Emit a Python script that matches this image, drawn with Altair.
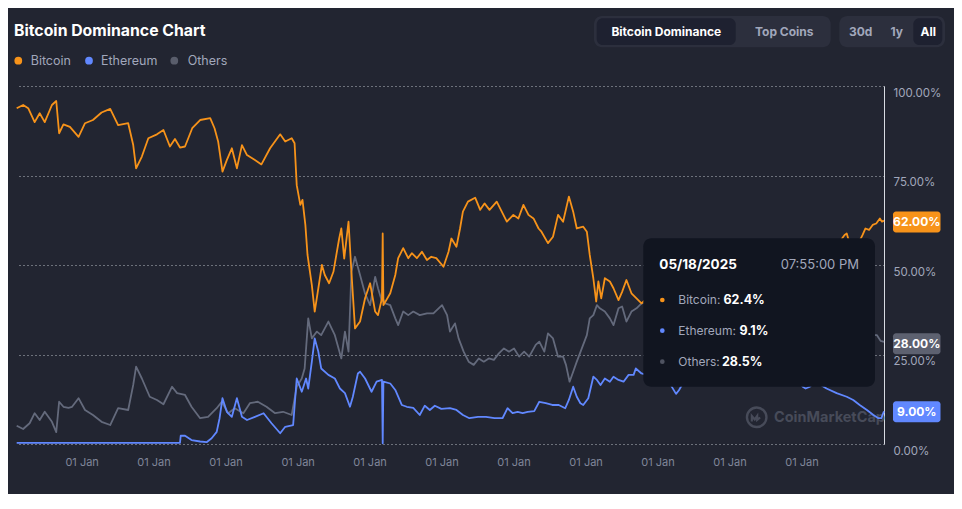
import altair as alt
import pandas as pd

FONT = "Inter"

# ---------------- data (decimal year, dominance %) ----------------
btc = [
    (2013.33, 93.8), (2013.42, 94.7), (2013.49, 93.8), (2013.58, 89.9), (2013.65, 92.4),
    (2013.72, 89.9), (2013.82, 94.7), (2013.88, 95.8), (2013.92, 86.8), (2013.98, 89.3),
    (2014.07, 88.6), (2014.19, 85.8), (2014.28, 89.6), (2014.39, 90.5), (2014.51, 92.6),
    (2014.63, 93.6), (2014.74, 89.1), (2014.88, 89.6), (2014.95, 83.5), (2014.99, 77.0),
    (2015.07, 80.3), (2015.16, 85.4), (2015.28, 86.5), (2015.37, 87.7), (2015.46, 83.1),
    (2015.53, 85.2), (2015.60, 82.8), (2015.67, 83.1), (2015.77, 88.2), (2015.88, 90.5),
    (2016.02, 91.0), (2016.08, 88.2), (2016.13, 84.5), (2016.19, 76.1), (2016.25, 79.3),
    (2016.32, 82.6), (2016.39, 77.0), (2016.46, 83.5), (2016.53, 80.7), (2016.64, 79.3),
    (2016.73, 78.1), (2016.85, 82.6), (2016.99, 86.5), (2017.06, 84.5), (2017.15, 85.4),
    (2017.19, 84.0), (2017.22, 72.3), (2017.27, 66.8), (2017.30, 68.2), (2017.34, 61.2),
    (2017.37, 52.8), (2017.43, 44.4), (2017.47, 37.0), (2017.52, 43.5), (2017.57, 50.0),
    (2017.61, 47.2), (2017.67, 44.9), (2017.73, 48.1), (2017.81, 57.4), (2017.84, 60.2),
    (2017.88, 51.8), (2017.94, 62.1), (2017.98, 48.1), (2018.03, 32.3), (2018.10, 34.2),
    (2018.17, 40.7), (2018.24, 44.9), (2018.31, 37.0), (2018.35, 36.0), (2018.405, 40.7),
    (2018.415, 58.8), (2018.425, 38.8), (2018.52, 42.1), (2018.59, 47.2), (2018.63, 51.9),
    (2018.70, 54.7), (2018.77, 51.9), (2018.82, 53.3), (2018.89, 51.9), (2018.96, 53.7),
    (2019.03, 51.4), (2019.09, 52.3), (2019.16, 51.9), (2019.26, 49.5), (2019.33, 53.7),
    (2019.37, 57.4), (2019.44, 55.1), (2019.49, 60.2), (2019.53, 64.9), (2019.60, 67.7),
    (2019.70, 68.8), (2019.77, 65.4), (2019.83, 67.2), (2019.90, 65.4), (2020.00, 67.7),
    (2020.07, 64.9), (2020.14, 62.1), (2020.23, 64.0), (2020.30, 63.0), (2020.37, 66.8),
    (2020.44, 64.0), (2020.51, 63.0), (2020.58, 60.2), (2020.62, 59.3), (2020.71, 56.1),
    (2020.78, 57.9), (2020.85, 64.0), (2020.92, 62.1), (2021.00, 69.1), (2021.06, 64.9),
    (2021.11, 60.2), (2021.20, 60.7), (2021.25, 59.3), (2021.29, 52.8), (2021.34, 46.3),
    (2021.38, 39.8), (2021.41, 45.4), (2021.45, 40.7), (2021.50, 46.3), (2021.57, 45.4),
    (2021.62, 43.5), (2021.69, 40.2), (2021.74, 42.5), (2021.80, 45.8), (2021.87, 42.1),
    (2021.94, 40.7), (2022.01, 39.3), (2022.10, 41.0), (2022.20, 42.5), (2022.30, 41.5),
    (2022.40, 44.0), (2022.50, 43.0), (2022.60, 40.5), (2022.70, 40.0), (2022.80, 40.5),
    (2022.90, 40.0), (2023.00, 41.5), (2023.10, 42.5), (2023.20, 46.0), (2023.30, 45.5),
    (2023.40, 47.5), (2023.50, 49.0), (2023.60, 48.5), (2023.70, 49.5), (2023.80, 52.0),
    (2023.90, 51.0), (2024.00, 51.5), (2024.10, 51.0), (2024.20, 52.0), (2024.30, 54.5),
    (2024.40, 53.5), (2024.50, 55.0), (2024.60, 56.0), (2024.70, 56.5), (2024.78, 57.0),
    (2024.83, 58.4), (2024.86, 58.8), (2024.88, 57.4), (2024.92, 56.0), (2024.96, 55.0),
    (2025.00, 55.5), (2025.04, 56.8), (2025.08, 58.4), (2025.12, 60.2), (2025.17, 59.8),
    (2025.22, 61.2), (2025.27, 61.6), (2025.32, 63.0), (2025.35, 62.1), (2025.377, 62.4),
]

eth = [
    (2013.33, 0.3), (2015.60, 0.3), (2015.61, 2.3), (2015.67, 2.3), (2015.76, 1.1),
    (2015.88, 0.7), (2015.97, 0.5), (2016.04, 1.6), (2016.11, 3.4), (2016.15, 7.2),
    (2016.19, 12.8), (2016.25, 9.0), (2016.32, 7.6), (2016.39, 12.8), (2016.46, 7.6),
    (2016.53, 6.7), (2016.64, 7.6), (2016.76, 8.6), (2016.87, 5.8), (2016.99, 3.0),
    (2017.06, 4.8), (2017.17, 5.3), (2017.22, 18.3), (2017.29, 14.6), (2017.35, 18.3),
    (2017.38, 15.5), (2017.43, 23.0), (2017.47, 29.5), (2017.52, 25.8), (2017.56, 21.1),
    (2017.66, 19.3), (2017.75, 18.3), (2017.82, 15.5), (2017.89, 14.2), (2017.96, 10.4),
    (2018.00, 13.2), (2018.07, 19.7), (2018.10, 20.2), (2018.17, 18.3), (2018.26, 14.6),
    (2018.33, 17.4), (2018.405, 17.9), (2018.415, 0.2), (2018.425, 17.4), (2018.52, 16.9),
    (2018.59, 15.1), (2018.68, 10.9), (2018.75, 10.4), (2018.84, 10.1), (2018.93, 8.1),
    (2019.00, 10.7), (2019.07, 9.5), (2019.14, 10.7), (2019.23, 9.8), (2019.35, 10.0),
    (2019.44, 9.5), (2019.53, 8.1), (2019.62, 7.2), (2019.74, 7.6), (2019.85, 7.6),
    (2019.97, 7.2), (2020.08, 7.2), (2020.15, 10.0), (2020.22, 8.6), (2020.29, 9.0),
    (2020.36, 8.6), (2020.43, 9.0), (2020.52, 9.2), (2020.59, 11.8), (2020.68, 11.4),
    (2020.77, 10.9), (2020.86, 10.9), (2020.95, 10.0), (2021.00, 12.3), (2021.06, 16.0),
    (2021.11, 13.2), (2021.16, 11.4), (2021.20, 10.9), (2021.27, 12.8), (2021.34, 18.8),
    (2021.39, 17.9), (2021.44, 16.5), (2021.50, 18.3), (2021.57, 17.4), (2021.62, 18.8),
    (2021.69, 17.9), (2021.76, 17.4), (2021.83, 19.3), (2021.90, 19.3), (2021.93, 21.1),
    (2022.01, 19.7), (2022.13, 19.0), (2022.27, 18.5), (2022.40, 17.0), (2022.49, 14.0),
    (2022.53, 15.0), (2022.60, 17.5), (2022.70, 19.5), (2022.80, 18.5), (2022.90, 18.0),
    (2023.00, 18.5), (2023.20, 19.5), (2023.40, 19.0), (2023.60, 18.5), (2023.80, 17.0),
    (2024.00, 17.5), (2024.20, 17.0), (2024.25, 16.0), (2024.29, 15.5), (2024.35, 16.0),
    (2024.40, 17.0), (2024.50, 16.5), (2024.58, 15.5), (2024.72, 14.2), (2024.86, 13.2),
    (2024.95, 12.3), (2025.04, 10.9), (2025.14, 9.5), (2025.23, 8.1), (2025.30, 7.2),
    (2025.34, 7.2), (2025.377, 9.1),
]

others = [
    (2013.33, 5.1), (2013.42, 4.2), (2013.51, 5.8), (2013.58, 8.6), (2013.65, 6.7),
    (2013.72, 9.0), (2013.82, 6.2), (2013.88, 3.3), (2013.92, 11.8), (2013.98, 10.4),
    (2014.05, 10.1), (2014.10, 10.4), (2014.19, 12.8), (2014.28, 9.5), (2014.39, 8.1),
    (2014.51, 6.2), (2014.63, 5.3), (2014.74, 10.0), (2014.88, 9.5), (2014.95, 16.5),
    (2014.99, 21.6), (2015.07, 18.3), (2015.18, 13.2), (2015.28, 12.3), (2015.37, 11.1),
    (2015.49, 16.0), (2015.56, 14.2), (2015.67, 13.7), (2015.76, 10.4), (2015.88, 7.2),
    (2015.99, 7.6), (2016.11, 10.0), (2016.18, 11.8), (2016.27, 8.6), (2016.36, 10.0),
    (2016.48, 8.6), (2016.57, 11.4), (2016.68, 11.8), (2016.80, 10.4), (2016.92, 8.6),
    (2017.03, 9.0), (2017.15, 8.1), (2017.22, 16.0), (2017.29, 18.3), (2017.33, 21.1),
    (2017.38, 35.1), (2017.43, 29.5), (2017.50, 31.4), (2017.56, 30.4), (2017.66, 34.2),
    (2017.75, 30.4), (2017.84, 23.9), (2017.89, 31.4), (2017.94, 25.8), (2017.98, 48.1),
    (2018.03, 52.3), (2018.10, 47.2), (2018.17, 42.0), (2018.24, 38.8), (2018.31, 46.7),
    (2018.35, 43.5), (2018.405, 39.8), (2018.415, 40.7), (2018.45, 39.3), (2018.52, 38.8),
    (2018.59, 35.1), (2018.63, 33.2), (2018.70, 37.0), (2018.77, 36.0), (2018.84, 37.0),
    (2018.93, 36.0), (2019.03, 36.5), (2019.12, 36.5), (2019.24, 38.8), (2019.31, 36.0),
    (2019.35, 31.4), (2019.42, 33.7), (2019.47, 29.5), (2019.54, 25.8), (2019.61, 23.0),
    (2019.68, 22.1), (2019.75, 23.9), (2019.82, 23.0), (2019.89, 23.9), (2019.96, 23.5),
    (2020.03, 25.3), (2020.10, 26.7), (2020.17, 25.8), (2020.24, 26.7), (2020.31, 24.4),
    (2020.38, 25.8), (2020.45, 24.4), (2020.54, 27.7), (2020.59, 28.6), (2020.66, 25.8),
    (2020.71, 30.9), (2020.78, 29.5), (2020.85, 24.4), (2020.92, 24.4), (2020.96, 22.1),
    (2021.01, 17.4), (2021.06, 20.2), (2021.11, 23.0), (2021.18, 26.7), (2021.25, 30.4),
    (2021.29, 35.1), (2021.34, 36.0), (2021.39, 38.8), (2021.43, 37.9), (2021.50, 37.0),
    (2021.57, 35.1), (2021.62, 33.2), (2021.69, 37.9), (2021.74, 38.4), (2021.80, 34.2),
    (2021.87, 37.0), (2021.94, 37.9), (2022.01, 39.3), (2022.10, 39.5), (2022.20, 39.0),
    (2022.30, 40.5), (2022.40, 39.0), (2022.50, 42.0), (2022.60, 41.5), (2022.70, 40.5),
    (2022.80, 41.0), (2022.90, 42.0), (2023.00, 40.0), (2023.20, 35.5), (2023.40, 34.0),
    (2023.60, 32.5), (2023.80, 31.5), (2024.00, 31.0), (2024.20, 31.5), (2024.40, 29.5),
    (2024.60, 28.0), (2024.80, 28.5), (2024.90, 31.0), (2025.00, 32.0), (2025.10, 31.0),
    (2025.20, 30.5), (2025.28, 30.4), (2025.33, 28.8), (2025.377, 28.5),
]

series_names = ["Bitcoin", "Ethereum", "Others"]
series_colors = ["#f7931a", "#6188ff", "#646a7c"]
legend_dot_colors = ["#f7931a", "#6188ff", "#595d6b"]
badge_values = [62.0, 28.0, 9.0]
badge_labels = ["62.00%", "28.00%", "9.00%"]
badge_colors = ["#f7931a", "#5d6170", "#6188ff"]
tick_years = list(range(2014, 2025))
y_ticks = [0, 25, 50, 75, 100]
tooltip_date = "05/18/2025"
tooltip_time = "07:55:00 PM"
tooltip_values = ["62.4%", "9.1%", "28.5%"]


def yr_to_iso(y):
    year = int(y)
    start = pd.Timestamp(year=year, month=1, day=1)
    end = pd.Timestamp(year=year + 1, month=1, day=1)
    t = start + (end - start) * (y - year)
    return t.strftime("%Y-%m-%dT%H:%M:%SZ")


def frame(points, name):
    return pd.DataFrame({
        "date": [yr_to_iso(p[0]) for p in points],
        "pct": [p[1] for p in points],
        "series": name,
    })


df_btc = frame(btc, "Bitcoin")
df_eth = frame(eth, "Ethereum")
df_oth = frame(others, "Others")

W, H = 868, 358
BG = "#222531"
MUTED = "#a1a7bb"

x_scale = alt.Scale(
    type="utc",
    domain=[alt.DateTime(year=2013, month=4, date=28, utc=True),
            alt.DateTime(year=2025, month=5, date=18, hours=19, minutes=55, utc=True)],
    nice=False,
)
y_scale = alt.Scale(domain=[0, 100], nice=False, zero=True)

x_axis = alt.Axis(
    values=[alt.DateTime(year=y, month=1, date=1, utc=True) for y in tick_years],
    labelExpr="utcFormat(datum.value, '%d %b')", labelAlign="left", labelBaseline="top",
    labelColor="#80869a", labelFont=FONT, labelFontSize=11, labelPadding=12,
    labelFlush=False, labelOverlap=False, grid=False, domain=False, ticks=False, title=None,
)
y_axis = alt.Axis(
    orient="right", values=y_ticks, labelExpr="format(datum.value, '.2f') + '%'",
    grid=True, gridDash=[1, 3], gridColor="#d4d8e0", gridOpacity=0.85, gridWidth=1,
    domain=True, domainColor="#d8dbe2", domainWidth=1, ticks=False,
    labelColor=MUTED, labelFont=FONT, labelFontSize=11.5, labelBaseline="top",
    labelPadding=9, labelOffset=1, title=None,
)


def line(df, color):
    return alt.Chart(df).mark_line(color=color, strokeWidth=1.8, strokeJoin="round").encode(
        x=alt.X("date:T", scale=x_scale, axis=x_axis),
        y=alt.Y("pct:Q", scale=y_scale, axis=y_axis),
    )


def label(s, x, y, size=12.5, color=MUTED, weight="normal", align="left"):
    return alt.Chart(pd.DataFrame({"t": [s]})).mark_text(
        font=FONT, fontSize=size, color=color, fontWeight=weight, align=align, baseline="middle"
    ).encode(x=alt.value(x), y=alt.value(y), text="t:N")


def box(x, x2, y, y2, fill, r):
    return alt.Chart(pd.DataFrame({"a": [0]})).mark_rect(fill=fill, cornerRadius=r).encode(
        x=alt.value(x), x2=alt.value(x2), y=alt.value(y), y2=alt.value(y2)
    )


def dot(x, y, color, size, filled=True, shape="circle", stroke_w=1):
    return alt.Chart(pd.DataFrame({"a": [0]})).mark_point(
        shape=shape, filled=filled, size=size, color=color, opacity=1, strokeWidth=stroke_w
    ).encode(x=alt.value(x), y=alt.value(y))


layers = []

# watermark (under lines)
layers.append(dot(740.7, 331.3, "#474b59", 380, filled=False, stroke_w=2.4))
layers.append(dot(740.7, 332, "#474b59", 380, filled=False,
                  shape="M-0.5,0.35 L-0.5,-0.2 L-0.2,0.15 L0.05,-0.2 L0.05,0.2 L0.35,-0.05",
                  stroke_w=2.2))
layers.append(label("CoinMarketCap", 758, 332, size=14.5, color="#474b59", weight="bold"))

# lines
layers.append(line(df_oth, series_colors[2]))
layers.append(line(df_eth, series_colors[1]))
layers.append(line(df_btc, series_colors[0]))

# value badges on the right axis
df_badge = pd.DataFrame({"v": badge_values, "lab": badge_labels, "c": badge_colors})
badge_rect = alt.Chart(df_badge).transform_calculate(
    lo="datum.v - 2.93", hi="datum.v + 2.93"
).mark_rect(cornerRadius=3).encode(
    x=alt.value(877), x2=alt.value(924.5),
    y=alt.Y("lo:Q", scale=y_scale, axis=y_axis), y2="hi:Q",
    color=alt.Color("c:N", scale=None, legend=None),
)
badge_text = alt.Chart(df_badge).mark_text(
    font=FONT, fontSize=12, fontWeight="bold", color="#ffffff", align="center", baseline="middle"
).encode(x=alt.value(900.8), y=alt.Y("v:Q", scale=y_scale, axis=y_axis), text="lab:N")
layers += [badge_rect, badge_text]

# tooltip panel
layers.append(box(627.3, 859, 152.3, 300.7, "#111520", 8))
layers.append(label(tooltip_date, 643.3, 179, size=13.5, color="#ffffff", weight="bold"))
layers.append(label(tooltip_time, 843, 179, size=13, color=MUTED, align="right"))
tip_rows_y = [214, 244.7, 275.7]
tip_value_x = [707.5, 723.5, 706]
tip_dot_colors = ["#f7931a", "#6188ff", "#4f5361"]
for i, name in enumerate(series_names):
    layers.append(dot(646.3, tip_rows_y[i], tip_dot_colors[i], 22))
    layers.append(label(name + ":", 662.3, tip_rows_y[i], size=12, color=MUTED))
    layers.append(label(tooltip_values[i], tip_value_x[i], tip_rows_y[i], size=12.5,
                        color="#ffffff", weight="bold"))

# title and legend
layers.append(label("Bitcoin Dominance Chart", -2, -55, size=15.8, color="#ffffff", weight="bold"))
legend_dot_x = [2.3, 73, 158.3]
legend_text_x = [14.7, 85, 171.7]
for i, name in enumerate(series_names):
    layers.append(dot(legend_dot_x[i], -25.3, legend_dot_colors[i], 60))
    layers.append(label(name, legend_text_x[i], -25.3, size=12.5, color=MUTED))

# buttons
layers.append(box(578, 814.7, -70, -38.7, "#2c2f3d", 8))
layers.append(box(580.7, 719.7, -67.7, -41, "#1e2130", 6))
layers.append(label("Bitcoin Dominance", 650.3, -54.3, size=12, color="#ffffff", weight="bold", align="center"))
layers.append(label("Top Coins", 768.3, -54.3, size=12, color=MUTED, weight="bold", align="center"))
layers.append(box(823.3, 929, -70, -38.7, "#2c2f3d", 8))
layers.append(box(897.3, 926.3, -67.7, -41, "#1e2130", 6))
layers.append(label("30d", 844.7, -54.3, size=12, color=MUTED, weight="bold", align="center"))
layers.append(label("1y", 880.7, -54.3, size=12, color=MUTED, weight="bold", align="center"))
layers.append(label("All", 912.3, -54.3, size=12, color="#ffffff", weight="bold", align="center"))

chart = alt.layer(*layers).properties(
    width=W, height=H, background=BG,
    padding={"left": 8, "top": 78, "right": 70, "bottom": 50},
    autosize=alt.AutoSizeParams(type="none"),
).configure_view(stroke=None)

chart.save("out.html", embed_options={"renderer": "svg", "actions": False})
